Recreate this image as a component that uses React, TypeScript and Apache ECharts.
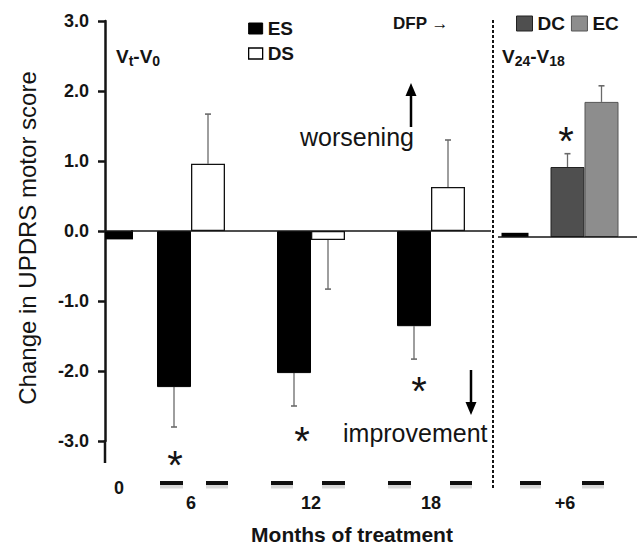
import { useEffect, useRef } from 'react';
import * as echarts from 'echarts';

const FONT = '"Liberation Sans", Arial, Helvetica, sans-serif';
const INK = '#141414';

// ---- data ----
const baselineCategories = ['0'];
const baselineES = [-0.12];

const visitCategories = ['6', '12', '18'];
const esValues = [-2.23, -2.03, -1.36];
const esErrors = [0.57, 0.47, 0.47];
const dsValues = [0.96, -0.13, 0.63];
const dsErrors = [0.71, 0.70, 0.67];

const switchBaselineCategories = [''];
const switchBaselineValues = [0.06];

const switchCategories = ['+6'];
const dcValues = [1.0];
const dcErrors = [0.19];
const ecValues = [1.93];
const ecErrors = [0.23];

const yMin = -3;
const yMax = 3;
const yInterval = 1;

// ---- helpers ----
const zeroLine = {
  symbol: 'none',
  silent: true,
  label: { show: false },
  lineStyle: { color: INK, width: 1.5, type: 'solid' },
  data: [{ yAxis: 0 }],
};

function errorBars(axisIndex: number, values: number[], errors: number[], offset: number) {
  return {
    type: 'custom',
    xAxisIndex: axisIndex,
    yAxisIndex: axisIndex,
    silent: true,
    z: 1,
    data: values.map((v, i) => [i, v, errors[i]]),
    renderItem: (_params: any, api: any) => {
      const idx = api.value(0);
      const v = api.value(1);
      const e = api.value(2);
      const end = v >= 0 ? v + e : v - e;
      const p0 = api.coord([idx, v]);
      const p1 = api.coord([idx, end]);
      const x = p0[0] + offset;
      return {
        type: 'group',
        children: [
          { type: 'line', shape: { x1: x, y1: p0[1], x2: x, y2: p1[1] }, style: { stroke: '#6a6a6a', lineWidth: 1.3 } },
          { type: 'line', shape: { x1: x - 3, y1: p1[1], x2: x + 3, y2: p1[1] }, style: { stroke: '#6a6a6a', lineWidth: 1.6 } },
        ],
      };
    },
  };
}

function hiddenY(gridIndex: number) {
  return {
    type: 'value',
    gridIndex,
    min: yMin,
    max: yMax,
    interval: yInterval,
    show: false,
    splitLine: { show: false },
  };
}

function catX(gridIndex: number, data: string[], margin: number, padding?: number[]) {
  return {
    type: 'category',
    gridIndex,
    data,
    axisLine: { show: false },
    axisTick: { show: false },
    splitLine: { show: false },
    axisLabel: {
      margin,
      color: INK,
      fontFamily: FONT,
      fontWeight: 'bold',
      fontSize: 18,
      padding: padding || 0,
    },
  };
}

const bottomDashes: number[][] = [
  [160, 183], [206, 228], [271, 293], [322, 345],
  [388, 411], [450, 472], [520, 541], [582, 604],
];

const asterisks: number[][] = [
  [175, 457], [302, 433], [419, 383], [566, 133],
];

function textEl(text: string, x: number, y: number, size: number, weight: string, align = 'left') {
  return {
    type: 'text',
    x,
    y,
    silent: true,
    style: {
      text,
      fill: INK,
      fontFamily: FONT,
      fontSize: size,
      fontWeight: weight,
      align,
      verticalAlign: 'middle',
    },
  };
}

function richVisit(text: string, x: number, y: number) {
  return {
    type: 'text',
    x,
    y,
    silent: true,
    style: {
      text,
      fill: INK,
      align: 'left',
      verticalAlign: 'middle',
      rich: {
        b: { fontFamily: FONT, fontSize: 19, fontWeight: 'bold', fill: INK },
        s: { fontFamily: FONT, fontSize: 14, fontWeight: 'bold', fill: INK, padding: [9, 0, 0, 0] },
      },
    },
  };
}

export default function App() {
  const ref = useRef<HTMLDivElement>(null);

  useEffect(() => {
    document.body.style.margin = '0';
    if (!ref.current) return;
    const chart = echarts.init(ref.current, undefined, { renderer: 'svg' });

    const option: any = {
      animation: false,
      backgroundColor: '#ffffff',
      textStyle: { fontFamily: FONT },
      grid: [
        { left: 105, top: 21, width: 28, height: 420, containLabel: false, outerBoundsMode: 'none' },
        { left: 131, top: 21, width: 360, height: 420, containLabel: false, outerBoundsMode: 'none' },
        { left: 498, top: 27, width: 34, height: 420, containLabel: false, outerBoundsMode: 'none' },
        { left: 532, top: 27, width: 105, height: 420, containLabel: false, outerBoundsMode: 'none' },
      ],
      xAxis: [
        catX(0, baselineCategories, 38),
        catX(1, visitCategories, 53),
        catX(2, switchBaselineCategories, 47),
        catX(3, switchCategories, 47, [0, 39, 0, 0]),
      ],
      yAxis: [
        {
          type: 'value',
          gridIndex: 0,
          min: yMin,
          max: yMax,
          interval: yInterval,
          axisLine: { show: true, lineStyle: { color: INK, width: 2.5 } },
          axisTick: { show: true, inside: false, length: 7, lineStyle: { color: INK, width: 2.5 } },
          splitLine: { show: false },
          axisLabel: {
            margin: 16,
            color: INK,
            fontFamily: FONT,
            fontWeight: 'bold',
            fontSize: 18,
            formatter: (v: number) => v.toFixed(1),
          },
        },
        hiddenY(1),
        hiddenY(2),
        hiddenY(3),
      ],
      legend: [
        {
          orient: 'vertical',
          left: 248,
          top: 19,
          padding: 0,
          itemWidth: 14,
          itemHeight: 11,
          itemGap: 6,
          selectedMode: false,
          textStyle: { color: INK, fontFamily: FONT, fontWeight: 'bold', fontSize: 19 },
          data: [
            { name: 'ES', icon: 'rect', itemStyle: { color: '#000', borderColor: '#000', borderWidth: 1 } },
            { name: 'DS', icon: 'rect', itemStyle: { color: '#fff', borderColor: '#000', borderWidth: 1.3 } },
          ],
        },
        {
          orient: 'horizontal',
          left: 516,
          top: 14,
          padding: 0,
          itemWidth: 16,
          itemHeight: 15,
          itemGap: 6,
          selectedMode: false,
          textStyle: { color: INK, fontFamily: FONT, fontWeight: 'bold', fontSize: 19 },
          data: [
            { name: 'DC', icon: 'rect', itemStyle: { color: '#4f4f4f', borderColor: '#222', borderWidth: 1 } },
            { name: 'EC', icon: 'rect', itemStyle: { color: '#8d8d8d', borderColor: '#555', borderWidth: 1 } },
          ],
        },
      ],
      series: [
        {
          type: 'bar',
          name: 'ES',
          xAxisIndex: 0,
          yAxisIndex: 0,
          data: baselineES,
          barWidth: 28,
          itemStyle: { color: '#000' },
          markLine: zeroLine,
          z: 2,
        },
        {
          type: 'bar',
          name: 'ES',
          xAxisIndex: 1,
          yAxisIndex: 1,
          data: esValues,
          barWidth: 34,
          barGap: '0%',
          itemStyle: { color: '#000', borderColor: '#000', borderWidth: 1 },
          markLine: zeroLine,
          z: 2,
        },
        {
          type: 'bar',
          name: 'DS',
          xAxisIndex: 1,
          yAxisIndex: 1,
          data: dsValues,
          barWidth: 34,
          barGap: '0%',
          itemStyle: { color: '#fff', borderColor: '#111', borderWidth: 1.3 },
          z: 2,
        },
        errorBars(1, esValues, esErrors, -17),
        errorBars(1, dsValues, dsErrors, 17),
        {
          type: 'bar',
          name: 'switch baseline',
          xAxisIndex: 2,
          yAxisIndex: 2,
          data: switchBaselineValues,
          barWidth: 27,
          itemStyle: { color: '#000' },
          markLine: zeroLine,
          z: 2,
        },
        {
          type: 'bar',
          name: 'DC',
          xAxisIndex: 3,
          yAxisIndex: 3,
          data: dcValues,
          barWidth: 34,
          barGap: '0%',
          itemStyle: { color: '#4f4f4f', borderColor: '#222', borderWidth: 1 },
          markLine: zeroLine,
          z: 2,
        },
        {
          type: 'bar',
          name: 'EC',
          xAxisIndex: 3,
          yAxisIndex: 3,
          data: ecValues,
          barWidth: 34,
          barGap: '0%',
          itemStyle: { color: '#8d8d8d', borderColor: '#555', borderWidth: 1 },
          z: 2,
        },
        errorBars(3, dcValues, dcErrors, -17),
        errorBars(3, ecValues, ecErrors, 17),
      ],
      graphic: [
        // extension of the y axis below -3.0
        { type: 'line', silent: true, shape: { x1: 105, y1: 440, x2: 105, y2: 463 }, style: { stroke: INK, lineWidth: 2.5 } },
        // dotted divider
        { type: 'line', silent: true, shape: { x1: 493, y1: 20, x2: 493, y2: 488 }, style: { stroke: INK, lineWidth: 2, lineDash: [3, 2] } },
        // broken x-axis dashes: faint shadow, then the dash
        ...bottomDashes.map(([a, b]) => ({
          type: 'line',
          silent: true,
          shape: { x1: a, y1: 486, x2: b, y2: 486 },
          style: { stroke: 'rgba(0,0,0,0.15)', lineWidth: 5 },
        })),
        ...bottomDashes.map(([a, b]) => ({
          type: 'line',
          silent: true,
          shape: { x1: a, y1: 483, x2: b, y2: 483 },
          style: { stroke: '#111', lineWidth: 4 },
        })),
        // axis titles
        {
          type: 'text',
          x: 27,
          y: 238,
          rotation: Math.PI / 2,
          silent: true,
          style: {
            text: 'Change in UPDRS motor score',
            fill: INK,
            fontFamily: FONT,
            fontSize: 24,
            align: 'center',
            verticalAlign: 'middle',
          },
        },
        textEl('Months of treatment', 352, 534, 21, 'bold', 'center'),
        // panel labels
        richVisit('{b|V}{s|t}{b|-V}{s|0}', 116, 56),
        richVisit('{b|V}{s|24}{b|-V}{s|18}', 502, 56),
        textEl('DFP →', 393, 23, 17, 'bold'),
        // direction hints
        textEl('worsening', 300, 137, 25, 'normal'),
        textEl('improvement', 343, 433, 25, 'normal'),
        { type: 'line', silent: true, shape: { x1: 411, y1: 127, x2: 411, y2: 92 }, style: { stroke: '#000', lineWidth: 2.5 } },
        { type: 'polygon', silent: true, shape: { points: [[411, 83], [405.5, 96], [416.5, 96]] }, style: { fill: '#000' } },
        { type: 'line', silent: true, shape: { x1: 471, y1: 370, x2: 471, y2: 405 }, style: { stroke: '#000', lineWidth: 2.5 } },
        { type: 'polygon', silent: true, shape: { points: [[471, 415], [465.5, 402], [476.5, 402]] }, style: { fill: '#000' } },
        // significance markers
        ...asterisks.map(([x, y]) => textEl('*', x, y + 8, 40, 'normal', 'center')),
      ],
    };

    chart.setOption(option);
    return () => {
      chart.dispose();
    };
  }, []);

  return <div ref={ref} style={{ width: 639, height: 547 }} />;
}
